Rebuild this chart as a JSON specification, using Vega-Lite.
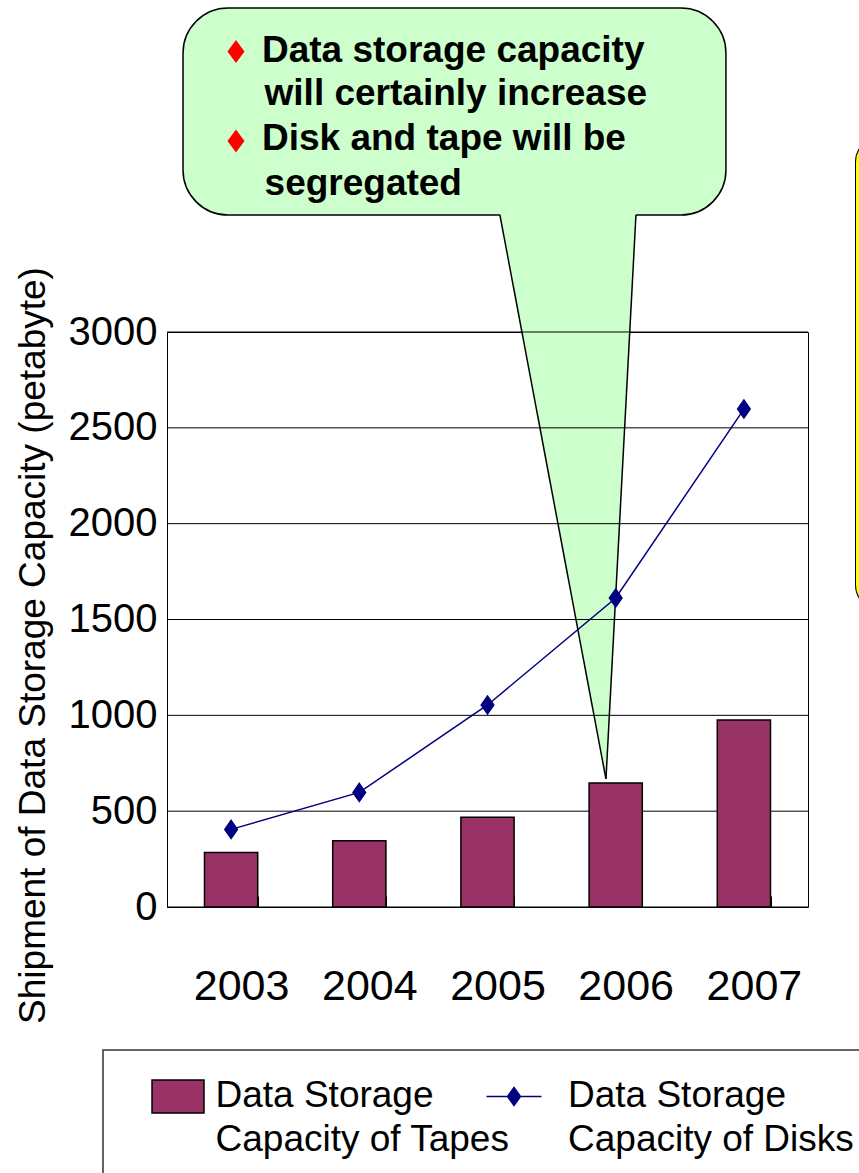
{
  "$schema": "https://vega.github.io/schema/vega-lite/v6.json",
  "width": 641,
  "height": 575,
  "autosize": {"type": "none"},
  "padding": {"left": 167, "top": 332, "right": 51, "bottom": 266},
  "background": "white",
  "config": {
    "font": "Liberation Sans",
    "view": {"stroke": "#000", "strokeWidth": 1},
    "style": {"guide-label": {"lineHeight": 44}},
    "axis": {"labelColor": "#000", "titleColor": "#000", "labelFont": "Liberation Sans", "titleFont": "Liberation Sans", "titleFontWeight": "normal"},
    "axisY": {"grid": false, "ticks": false, "domain": false, "labelFontSize": 40, "labelPadding": 10, "labelFlush": false, "labelOverlap": false, "titleFontSize": 37, "titleX": -123, "titleY": 313, "titleAngle": -90, "titleAlign": "center", "titleBaseline": "alphabetic"}
  },
  "datasets": {
    "storage": [
      {"year": "2003", "series": "Tapes", "petabyte": 285},
      {"year": "2004", "series": "Tapes", "petabyte": 346},
      {"year": "2005", "series": "Tapes", "petabyte": 468},
      {"year": "2006", "series": "Tapes", "petabyte": 647},
      {"year": "2007", "series": "Tapes", "petabyte": 976},
      {"year": "2003", "series": "Disks", "petabyte": 405},
      {"year": "2004", "series": "Disks", "petabyte": 598},
      {"year": "2005", "series": "Disks", "petabyte": 1054},
      {"year": "2006", "series": "Disks", "petabyte": 1612},
      {"year": "2007", "series": "Disks", "petabyte": 2598}
    ],
    "gridlines": [
      {"level": 0}, {"level": 500}, {"level": 1000}, {"level": 1500},
      {"level": 2000}, {"level": 2500}, {"level": 3000}
    ],
    "tail": [
      {"ax": 2005.097, "top": 3621, "bottom": 3621},
      {"ax": 2005.924, "top": 3621, "bottom": 668},
      {"ax": 2006.158, "top": 3621, "bottom": 3621}
    ]
  },
  "resolve": {"scale": {"x": "independent"}},
  "layer": [
    {
      "layer": [
        {
          "data": {"values": [{}]},
          "mark": {"type": "rect", "fill": "#FFFFFF", "stroke": "#000", "strokeWidth": 6, "cornerRadius": 22},
          "encoding": {
            "x": {"datum": 2007.89, "type": "quantitative", "scale": {"domain": [2002.5, 2007.5], "nice": false, "zero": false}, "axis": null},
            "x2": {"datum": 2008.8},
            "y": {"datum": 4002, "type": "quantitative", "scale": {"domain": [0, 3000], "nice": false}, "axis": {"title": "Shipment of Data Storage Capacity (petabyte)", "values": [0, 500, 1000, 1500, 2000, 2500, 3000], "format": "d"}},
            "y2": {"datum": 1565}
          }
        },
        {
          "data": {"values": [{}]},
          "mark": {"type": "rect", "fillOpacity": 0, "stroke": "#FFFF00", "strokeWidth": 4, "cornerRadius": 22},
          "encoding": {
            "x": {"datum": 2007.89, "type": "quantitative", "axis": null},
            "x2": {"datum": 2008.8},
            "y": {"datum": 4002, "type": "quantitative", "axis": {"title": "Shipment of Data Storage Capacity (petabyte)", "values": [0, 500, 1000, 1500, 2000, 2500, 3000], "format": "d"}},
            "y2": {"datum": 1565}
          }
        },
        {
          "data": {"values": [{}]},
          "mark": {"type": "rect", "fillOpacity": 0, "stroke": "#333", "strokeWidth": 1.5},
          "encoding": {
            "x": {"datum": 2002.0008, "type": "quantitative", "axis": null},
            "x2": {"datum": 2009.2},
            "y": {"datum": -746, "type": "quantitative", "axis": {"title": "Shipment of Data Storage Capacity (petabyte)", "values": [0, 500, 1000, 1500, 2000, 2500, 3000], "format": "d"}},
            "y2": {"datum": -1460}
          }
        },
        {
          "data": {"values": [{}]},
          "mark": {"type": "rect", "fill": "#CCFFCC", "stroke": "#000", "strokeWidth": 1.5, "cornerRadius": 45},
          "encoding": {
            "x": {"datum": 2002.625, "type": "quantitative", "axis": null},
            "x2": {"datum": 2006.86},
            "y": {"datum": 4690, "type": "quantitative", "axis": {"title": "Shipment of Data Storage Capacity (petabyte)", "values": [0, 500, 1000, 1500, 2000, 2500, 3000], "format": "d"}},
            "y2": {"datum": 3610}
          }
        },
        {
          "data": {"name": "tail"},
          "mark": {"type": "area", "fill": "#CCFFCC", "interpolate": "linear"},
          "encoding": {
            "x": {"field": "ax", "type": "quantitative", "axis": null},
            "y": {"field": "top", "type": "quantitative", "axis": {"title": "Shipment of Data Storage Capacity (petabyte)", "values": [0, 500, 1000, 1500, 2000, 2500, 3000], "format": "d"}},
            "y2": {"field": "bottom"}
          }
        },
        {
          "data": {"values": [{}]},
          "mark": {"type": "rule", "color": "#000", "strokeWidth": 1.5},
          "encoding": {
            "x": {"datum": 2005.097, "type": "quantitative", "axis": null},
            "x2": {"datum": 2005.924},
            "y": {"datum": 3610, "type": "quantitative", "axis": {"title": "Shipment of Data Storage Capacity (petabyte)", "values": [0, 500, 1000, 1500, 2000, 2500, 3000], "format": "d"}},
            "y2": {"datum": 668}
          }
        },
        {
          "data": {"values": [{}]},
          "mark": {"type": "rule", "color": "#000", "strokeWidth": 1.5},
          "encoding": {
            "x": {"datum": 2006.158, "type": "quantitative", "axis": null},
            "x2": {"datum": 2005.924},
            "y": {"datum": 3610, "type": "quantitative", "axis": {"title": "Shipment of Data Storage Capacity (petabyte)", "values": [0, 500, 1000, 1500, 2000, 2500, 3000], "format": "d"}},
            "y2": {"datum": 668}
          }
        },
        {
          "data": {"values": [{}]},
          "mark": {"type": "point", "shape": "M0,-1L0.74,0L0,1L-0.74,0Z", "filled": true, "color": "#FF0000", "opacity": 1, "size": 529},
          "encoding": {
            "x": {"datum": 2003.038, "type": "quantitative", "axis": null},
            "y": {"datum": 4463, "type": "quantitative", "axis": {"title": "Shipment of Data Storage Capacity (petabyte)", "values": [0, 500, 1000, 1500, 2000, 2500, 3000], "format": "d"}}
          }
        },
        {
          "data": {"values": [{}]},
          "mark": {"type": "point", "shape": "M0,-1L0.74,0L0,1L-0.74,0Z", "filled": true, "color": "#FF0000", "opacity": 1, "size": 529},
          "encoding": {
            "x": {"datum": 2003.038, "type": "quantitative", "axis": null},
            "y": {"datum": 3997, "type": "quantitative", "axis": {"title": "Shipment of Data Storage Capacity (petabyte)", "values": [0, 500, 1000, 1500, 2000, 2500, 3000], "format": "d"}}
          }
        },
        {
          "data": {"values": [{}]},
          "mark": {"type": "text", "align": "left", "baseline": "alphabetic", "fontSize": 37, "fontWeight": "bold", "font": "Liberation Sans", "color": "#000"},
          "encoding": {
            "x": {"datum": 2003.241, "type": "quantitative", "axis": null},
            "y": {"datum": 4409, "type": "quantitative", "axis": {"title": "Shipment of Data Storage Capacity (petabyte)", "values": [0, 500, 1000, 1500, 2000, 2500, 3000], "format": "d"}},
            "text": {"value": "Data storage capacity"}
          }
        },
        {
          "data": {"values": [{}]},
          "mark": {"type": "text", "align": "left", "baseline": "alphabetic", "fontSize": 37, "fontWeight": "bold", "font": "Liberation Sans", "color": "#000"},
          "encoding": {
            "x": {"datum": 2003.261, "type": "quantitative", "axis": null},
            "y": {"datum": 4184, "type": "quantitative", "axis": {"title": "Shipment of Data Storage Capacity (petabyte)", "values": [0, 500, 1000, 1500, 2000, 2500, 3000], "format": "d"}},
            "text": {"value": "will certainly increase"}
          }
        },
        {
          "data": {"values": [{}]},
          "mark": {"type": "text", "align": "left", "baseline": "alphabetic", "fontSize": 37, "fontWeight": "bold", "font": "Liberation Sans", "color": "#000"},
          "encoding": {
            "x": {"datum": 2003.241, "type": "quantitative", "axis": null},
            "y": {"datum": 3950, "type": "quantitative", "axis": {"title": "Shipment of Data Storage Capacity (petabyte)", "values": [0, 500, 1000, 1500, 2000, 2500, 3000], "format": "d"}},
            "text": {"value": "Disk and tape will be"}
          }
        },
        {
          "data": {"values": [{}]},
          "mark": {"type": "text", "align": "left", "baseline": "alphabetic", "fontSize": 37, "fontWeight": "bold", "font": "Liberation Sans", "color": "#000"},
          "encoding": {
            "x": {"datum": 2003.261, "type": "quantitative", "axis": null},
            "y": {"datum": 3715, "type": "quantitative", "axis": {"title": "Shipment of Data Storage Capacity (petabyte)", "values": [0, 500, 1000, 1500, 2000, 2500, 3000], "format": "d"}},
            "text": {"value": "segregated"}
          }
        }
      ]
    },
    {
      "resolve": {"scale": {"fill": "independent", "stroke": "independent"}},
      "layer": [
        {
          "data": {"name": "gridlines"},
          "mark": {"type": "rule", "color": "#000", "strokeWidth": 1},
          "encoding": {
            "y": {"field": "level", "type": "quantitative", "scale": {"domain": [0, 3000], "nice": false}, "axis": {"title": "Shipment of Data Storage Capacity (petabyte)", "values": [0, 500, 1000, 1500, 2000, 2500, 3000], "format": "d"}}
          }
        },
        {
          "data": {"name": "storage"},
          "transform": [{"filter": "datum.series === 'Tapes'"}],
          "mark": {"type": "bar", "strokeWidth": 1.5, "opacity": 1},
          "encoding": {
            "x": {
              "field": "year", "type": "ordinal",
              "scale": {"paddingInner": 0.585, "paddingOuter": 0.2925},
              "axis": {"title": null, "labelFontSize": 43, "labelColor": "#000", "labelBaseline": "alphabetic", "labelPadding": 103, "labelOffset": 10, "tickBand": "extent", "tickSize": -11, "tickColor": "#000", "tickWidth": 1, "domain": false, "grid": false, "labelAngle": 0}
            },
            "y": {
              "field": "petabyte", "type": "quantitative",
              "scale": {"domain": [0, 3000], "nice": false},
              "axis": {"title": "Shipment of Data Storage Capacity (petabyte)", "values": [0, 500, 1000, 1500, 2000, 2500, 3000], "format": "d"}
            },
            "fill": {
              "field": "series", "type": "nominal",
              "scale": {"domain": ["Tapes"], "range": ["#993366"]},
              "legend": {
                "orient": "none", "legendX": -17.5, "legendY": 746, "title": null, "padding": 0,
                "symbolType": "M-0.945,-0.964L0.945,-0.964L0.945,0.236L-0.945,0.236Z",
                "symbolSize": 3025, "symbolStrokeWidth": 1.5, "symbolOffset": 0, "labelOffset": 9,
                "labelFontSize": 37, "labelFont": "Liberation Sans", "labelColor": "#000", "labelBaseline": "alphabetic", "labelLimit": 600,
                "labelExpr": "['Data Storage', 'Capacity of Tapes']"
              }
            },
            "stroke": {
              "field": "series", "type": "nominal",
              "scale": {"domain": ["Tapes"], "range": ["#000000"]},
              "legend": {
                "orient": "none", "legendX": -17.5, "legendY": 746, "title": null, "padding": 0,
                "symbolType": "M-0.945,-0.964L0.945,-0.964L0.945,0.236L-0.945,0.236Z",
                "symbolSize": 3025, "symbolStrokeWidth": 1.5, "symbolOffset": 0, "labelOffset": 9,
                "labelFontSize": 37, "labelFont": "Liberation Sans", "labelColor": "#000", "labelBaseline": "alphabetic", "labelLimit": 600,
                "labelExpr": "['Data Storage', 'Capacity of Tapes']"
              }
            }
          }
        },
        {
          "data": {"name": "storage"},
          "transform": [{"filter": "datum.series === 'Disks'"}],
          "mark": {"type": "line", "color": "#000080", "strokeWidth": 1.5},
          "encoding": {
            "x": {"field": "year", "type": "ordinal"},
            "y": {"field": "petabyte", "type": "quantitative", "axis": {"title": "Shipment of Data Storage Capacity (petabyte)", "values": [0, 500, 1000, 1500, 2000, 2500, 3000], "format": "d"}}
          }
        },
        {
          "data": {"name": "storage"},
          "transform": [{"filter": "datum.series === 'Disks'"}],
          "mark": {"type": "point", "filled": true, "shape": "M0,-1L0.7,0L0,1L-0.7,0Z", "size": 324, "opacity": 1, "strokeWidth": 1.5},
          "encoding": {
            "x": {"field": "year", "type": "ordinal"},
            "y": {"field": "petabyte", "type": "quantitative", "axis": {"title": "Shipment of Data Storage Capacity (petabyte)", "values": [0, 500, 1000, 1500, 2000, 2500, 3000], "format": "d"}},
            "fill": {
              "field": "series", "type": "nominal",
              "scale": {"domain": ["Disks"], "range": ["#000080"]},
              "legend": {
                "orient": "none", "legendX": 318.5, "legendY": 746, "title": null, "padding": 0,
                "symbolType": "M-1,-0.364L1,-0.364M0,-0.691L0.236,-0.364L0,-0.037L-0.236,-0.364Z",
                "symbolSize": 3025, "symbolStrokeWidth": 1.5, "symbolOffset": 0, "labelOffset": 25.5,
                "labelFontSize": 37, "labelFont": "Liberation Sans", "labelColor": "#000", "labelBaseline": "alphabetic", "labelLimit": 600,
                "labelExpr": "['Data Storage', 'Capacity of Disks']"
              }
            },
            "stroke": {
              "field": "series", "type": "nominal",
              "scale": {"domain": ["Disks"], "range": ["#000080"]},
              "legend": {
                "orient": "none", "legendX": 318.5, "legendY": 746, "title": null, "padding": 0,
                "symbolType": "M-1,-0.364L1,-0.364M0,-0.691L0.236,-0.364L0,-0.037L-0.236,-0.364Z",
                "symbolSize": 3025, "symbolStrokeWidth": 1.5, "symbolOffset": 0, "labelOffset": 25.5,
                "labelFontSize": 37, "labelFont": "Liberation Sans", "labelColor": "#000", "labelBaseline": "alphabetic", "labelLimit": 600,
                "labelExpr": "['Data Storage', 'Capacity of Disks']"
              }
            }
          }
        }
      ]
    }
  ]
}
